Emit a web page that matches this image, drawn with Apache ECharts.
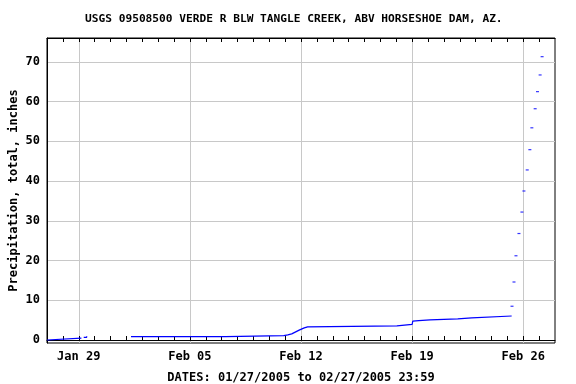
<!DOCTYPE html>
<html>
<head>
<meta charset="utf-8">
<style>html,body{margin:0;padding:0;background:#fff}#c{width:576px;height:384px}</style>
<script src="https://cdn.jsdelivr.net/npm/echarts@6/dist/echarts.min.js"></script>
</head>
<body>
<div id="c"></div>
<script>
// ---- data (dates as MM-DD HH:mm in 2005, values in inches) ----
const seg1Times = ['01-27 00:00', '01-27 01:00', '01-29 04:00'];
const seg1Vals  = [0, 0.5, 0.5];
const seg2Times = ['01-29 07:30', '01-29 12:00'];
const seg2Vals  = [0.68, 0.93];
const seg3Times = ['02-01 07:00', '02-07 06:00', '02-10 22:00', '02-11 04:00', '02-11 10:00',
  '02-11 13:00', '02-11 16:00', '02-11 19:00', '02-11 22:00', '02-12 01:00', '02-12 05:00',
  '02-12 10:00', '02-18 01:00', '02-19 00:00', '02-19 01:00', '02-19 04:00', '02-19 10:00',
  '02-20 03:00', '02-21 21:00', '02-22 18:00', '02-25 06:30'];
const seg3Vals  = [0.85, 1.1, 1.3, 1.55, 1.8, 2.05, 2.3, 2.55, 2.8, 3.05, 3.3,
  3.55, 3.95, 4.4, 4.75, 4.9, 5.05, 5.3, 5.55, 6.05, 6.05];
const dotTimes = ['02-25 07:00', '02-25 10:00', '02-25 13:00', '02-25 17:30', '02-25 22:00',
  '02-26 01:00', '02-26 06:00', '02-26 10:00', '02-26 13:00', '02-26 18:00', '02-26 21:30',
  '02-27 01:30', '02-27 04:30'];
const dotVals = [8.5, 14.6, 21.2, 26.8, 32.2, 37.5, 42.8, 47.9, 53.4, 58.2, 62.5, 66.7, 71.3];
const xTickDates = ['01-29 00:00', '02-05 00:00', '02-12 00:00', '02-19 00:00', '02-26 00:00'];
const xTickLabels = ['Jan 29', 'Feb 05', 'Feb 12', 'Feb 19', 'Feb 26'];
const yTicks = [0, 10, 20, 30, 40, 50, 60, 70];
const xStart = '01-27 00:00';
const xEnd = '02-28 00:00';
const titleText = 'USGS 09508500 VERDE R BLW TANGLE CREEK, ABV HORSESHOE DAM, AZ.';
const xName = 'DATES: 01/27/2005 to 02/27/2005 23:59';
const yName = 'Precipitation, total, inches';

// day index since Jan 1 (Jan 1 = 0)
function toDay(s) {
  const m = +s.slice(0, 2), d = +s.slice(3, 5), h = +s.slice(6, 8), mi = +s.slice(9, 11);
  return (m === 1 ? d - 1 : 31 + d - 1) + h / 24 + mi / 1440;
}
// staircase: hold each value until the next reading, then jump
function stepPairs(t, v) {
  const out = [];
  t.forEach((s, i) => {
    const x = toDay(s);
    if (i > 0) out.push([x, v[i - 1]]);
    out.push([x, v[i]]);
  });
  return out;
}
const pairs = (t, v) => t.map((s, i) => [toDay(s), v[i]]);
const xMin = toDay(xStart), xMax = toDay(xEnd);
const xTickVals = xTickDates.map(toDay);
const dailyTicks = [];
for (let d = Math.ceil(xMin + 0.001); d < xMax; d++) dailyTicks.push(d);
const labelMap = {};
xTickVals.forEach((v, i) => labelMap[Math.round(v)] = xTickLabels[i]);

const FONT = '"DejaVu Sans Mono", monospace';
const txt = { fontFamily: FONT, fontWeight: 'bold', fontSize: 12, color: '#000' };
const GRID = '#c8c8c8';
const lineSeries = (t, v) => ({
  type: 'line', data: stepPairs(t, v), showSymbol: false,
  lineStyle: { color: '#0000ff', width: 1.2 }, itemStyle: { color: '#0000ff' }
});

const chart = echarts.init(document.getElementById('c'), null, { renderer: 'canvas' });
chart.setOption({
  animation: false,
  backgroundColor: '#fff',
  title: {
    text: titleText, left: 80, top: 9,
    textStyle: { fontFamily: FONT, fontWeight: 'bold', fontSize: 11.2, color: '#000' }
  },
  grid: { left: 47, right: 21, top: 38, bottom: 41, outerBoundsMode: 'none', containLabel: false,
    show: true, borderColor: '#000', borderWidth: 1, backgroundColor: 'transparent' },
  xAxis: [
    { // main bottom: daily inner ticks + labels
      type: 'value', min: xMin, max: xMax, position: 'bottom',
      axisLine: { show: true, lineStyle: { color: '#000', width: 1 } },
      axisTick: { show: true, inside: true, length: 4, customValues: dailyTicks, lineStyle: { color: '#000' } },
      axisLabel: { show: true, customValues: xTickVals, margin: 8, formatter: v => labelMap[Math.round(v)] || '', ...txt },
      splitLine: { show: false },
      name: xName, nameLocation: 'middle', nameGap: 29, nameMoveOverlap: false, nameTextStyle: txt
    },
    { // weekly grid lines
      type: 'value', min: xMin, max: xMax, position: 'bottom',
      axisLine: { show: false },
      axisTick: { show: false, customValues: xTickVals },
      axisLabel: { show: false },
      splitLine: { show: true, lineStyle: { color: GRID, width: 1 } }
    },
    { // top daily ticks
      type: 'value', min: xMin, max: xMax, position: 'top',
      axisLine: { show: true, lineStyle: { color: '#000', width: 1 } },
      axisTick: { show: true, inside: true, length: 4, customValues: dailyTicks, lineStyle: { color: '#000' } },
      axisLabel: { show: false },
      splitLine: { show: false }
    }
  ],
  yAxis: {
    type: 'value', min: -0.75, max: 76,
    axisLine: { show: true, lineStyle: { color: '#000' } },
    axisTick: { show: false, customValues: yTicks },
    axisLabel: { customValues: yTicks, margin: 7, ...txt },
    splitLine: { show: true, lineStyle: { color: GRID, width: 1 } },
    name: yName, nameLocation: 'middle', nameGap: 27, nameRotate: 90, nameMoveOverlap: false, nameTextStyle: txt
  },
  series: [
    lineSeries(seg1Times, seg1Vals),
    lineSeries(seg2Times, seg2Vals),
    lineSeries(seg3Times, seg3Vals),
    { type: 'scatter', data: pairs(dotTimes, dotVals), symbol: 'rect', symbolSize: [3, 1.2], itemStyle: { color: '#0000ff' } }
  ]
});
</script>
</body>
</html>
